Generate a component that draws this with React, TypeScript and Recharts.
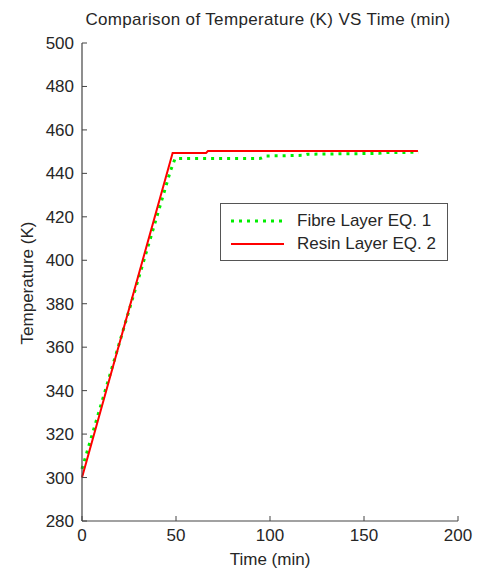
import React from 'react';
import { LineChart, Line, XAxis, YAxis, Legend } from 'recharts';

const fibreTime = [0, 47, 49.5, 95, 98, 118, 120, 158, 162, 179];
const fibreTemp = [304, 441, 446.8, 446.9, 448.0, 448.3, 448.8, 449.2, 449.6, 449.7];
const resinTime = [0, 48.2, 66, 67, 178.7];
const resinTemp = [300, 449.4, 449.4, 450.3, 450.3];
const xTicks = [0, 50, 100, 150, 200];
const yTicks = [280, 300, 320, 340, 360, 380, 400, 420, 440, 460, 480, 500];
const titleText = 'Comparison of Temperature (K) VS Time (min)';
const xLabel = 'Time (min)';
const yLabel = 'Temperature (K)';
const fibreName = 'Fibre Layer EQ. 1';
const resinName = 'Resin Layer EQ. 2';

const fibreData = fibreTime.map((t, i) => ({ t, v: fibreTemp[i] }));
const resinData = resinTime.map((t, i) => ({ t, v: resinTemp[i] }));

const FONT = '"Liberation Sans", Arial, sans-serif';
const TEXT = '#262626';

const LegendBox = (props: any) => {
  const items = props.payload || [];
  return (
    <div
      style={{
        border: '1px solid #555',
        background: '#fff',
        width: 228,
        height: 58,
        boxSizing: 'border-box',
        fontFamily: FONT,
        fontSize: 17,
        color: TEXT,
        paddingTop: 5,
      }}
    >
      {items.map((it: any) => (
        <div key={it.value} style={{ display: 'flex', alignItems: 'center', height: 23.5 }}>
          <svg width={76} height={10} style={{ flex: 'none' }}>
            <line
              x1={10}
              x2={63}
              y1={5}
              y2={5}
              stroke={it.color}
              strokeWidth={it.payload && it.payload.strokeDasharray ? 3 : 2}
              strokeDasharray={it.payload && it.payload.strokeDasharray ? it.payload.strokeDasharray : undefined}
            />
          </svg>
          <span style={{ whiteSpace: 'nowrap' }}>{it.value}</span>
        </div>
      ))}
    </div>
  );
};

export default function App() {
  return (
    <div style={{ position: 'absolute', left: 0, top: 0, width: 480, height: 572, background: '#fff' }}>
      <div
        style={{
          position: 'absolute',
          left: 0,
          width: 536,
          top: 10,
          textAlign: 'center',
          fontFamily: FONT,
          fontSize: 17,
          letterSpacing: 0.35,
          color: TEXT,
          whiteSpace: 'nowrap',
        }}
      >
        {titleText}
      </div>
      <div
        style={{
          position: 'absolute',
          left: 0,
          width: 540,
          top: 550,
          textAlign: 'center',
          fontFamily: FONT,
          fontSize: 17,
          color: TEXT,
        }}
      >
        {xLabel}
      </div>
      <div
        style={{
          position: 'absolute',
          left: 28,
          top: 283,
          transform: 'translate(-50%, -50%) rotate(-90deg)',
          fontFamily: FONT,
          fontSize: 17,
          color: TEXT,
          whiteSpace: 'nowrap',
        }}
      >
        {yLabel}
      </div>
      <LineChart
        width={480}
        height={572}
        margin={{ top: 43, right: 22, left: 0, bottom: 0 }}
        style={{ position: 'absolute', left: 0, top: 0 }}
      >
        <XAxis
          type="number"
          dataKey="t"
          domain={[0, 200]}
          ticks={xTicks}
          interval={0}
          height={51}
          allowDuplicatedCategory={false}
          axisLine={{ stroke: '#444', strokeWidth: 1.2 }}
          tickLine={{ stroke: '#444' }}
          tickSize={-5}
          tickMargin={13}
          tick={{ fill: TEXT, fontSize: 17, fontFamily: FONT }}
        />
        <YAxis
          type="number"
          domain={[280, 500]}
          ticks={yTicks}
          interval={0}
          width={82}
          axisLine={{ stroke: '#444', strokeWidth: 1.2 }}
          tickLine={{ stroke: '#444' }}
          tickSize={-5}
          tickMargin={13}
          tick={{ fill: TEXT, fontSize: 17, fontFamily: FONT }}
        />
        <Legend
          layout="vertical"
          align="center"
          verticalAlign="middle"
          content={<LegendBox />}
          wrapperStyle={{ position: 'absolute', left: 220, top: 203, width: 228 }}
        />
        <Line
          data={fibreData}
          dataKey="v"
          name={fibreName}
          type="linear"
          stroke="#00ee00"
          strokeWidth={3}
          strokeDasharray="3 5"
          dot={false}
          isAnimationActive={false}
        />
        <Line
          data={resinData}
          dataKey="v"
          name={resinName}
          type="linear"
          stroke="#ff0000"
          strokeWidth={2}
          dot={false}
          isAnimationActive={false}
        />
      </LineChart>
    </div>
  );
}
